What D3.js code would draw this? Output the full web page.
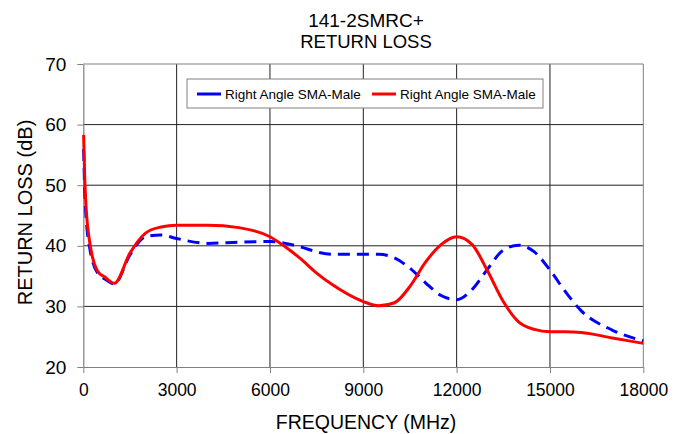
<!DOCTYPE html>
<html><head><meta charset="utf-8">
<script src="https://cdn.jsdelivr.net/npm/d3@7"></script>
<style>body{margin:0;background:#fff}svg{display:block}text{font-family:"Liberation Sans",Arial,sans-serif}</style>
</head><body><svg id="c" width="686" height="434"></svg>
<script>
const titleLines = ["141-2SMRC+", "RETURN LOSS"];
const xLabel = "FREQUENCY (MHz)";
const yLabel = "RETURN LOSS (dB)";
const xTicks = [0, 3000, 6000, 9000, 12000, 15000, 18000];
const yTicks = [20, 30, 40, 50, 60, 70];
const seriesNames = ["Right Angle SMA-Male", "Right Angle SMA-Male"];
const freq = [10, 50, 100, 200, 300, 450, 700, 1000, 1500, 2000, 2500, 3000, 4000, 5000, 6000, 6500, 7000, 7500, 8000, 9000, 9500, 10000, 10500, 11000, 11500, 12000, 12500, 13000, 13500, 14000, 14500, 15000, 15500, 16000, 17000, 18000];
const blueValues = [56, 48.5, 44, 39.8, 37.4, 35.6, 34.5, 33.7, 38.5, 41.5, 41.8, 41.2, 40.4, 40.6, 40.7, 40.4, 39.8, 39.0, 38.6, 38.6, 38.6, 38.0, 36.3, 33.9, 31.8, 31.1, 32.8, 36.2, 39.3, 40.1, 39.0, 36.0, 32.4, 29.3, 26.1, 24.3];
const redValues = [58.3, 50.5, 45.5, 40.8, 38.0, 35.9, 34.8, 33.8, 38.8, 42.1, 43.1, 43.4, 43.4, 43.0, 41.5, 39.8, 37.8, 35.5, 33.6, 30.8, 30.1, 30.6, 33.3, 37.3, 40.2, 41.5, 40.2, 35.8, 30.8, 27.4, 26.2, 25.8, 25.8, 25.7, 24.8, 23.9];

const svg = d3.select("#c");
const L = 83.3, R = 643.3, T = 64, B = 367;
const x = d3.scaleLinear().domain([0, 18000]).range([L, R]);
const y = d3.scaleLinear().domain([20, 70]).range([B, T]);

// grid
svg.append("g").selectAll("line").data(yTicks.slice(1, -1)).join("line")
  .attr("x1", L).attr("x2", R).attr("y1", d => y(d)).attr("y2", d => y(d))
  .attr("stroke", "#222").attr("stroke-width", 1);
svg.append("g").selectAll("line").data(xTicks.slice(1, -1)).join("line")
  .attr("y1", T).attr("y2", B).attr("x1", d => x(d)).attr("x2", d => x(d))
  .attr("stroke", "#222").attr("stroke-width", 1);
// frame
svg.append("line").attr("x1", L).attr("x2", R).attr("y1", T).attr("y2", T).attr("stroke", "#808080");
svg.append("line").attr("x1", R).attr("x2", R).attr("y1", T).attr("y2", B).attr("stroke", "#808080");

// axes
const xAxis = svg.append("g").attr("transform", `translate(0,${B})`)
  .call(d3.axisBottom(x).tickValues(xTicks).tickFormat(d3.format("d")).tickSizeInner(6).tickSizeOuter(0).tickPadding(11));
const yAxis = svg.append("g").attr("transform", `translate(${L},0)`)
  .call(d3.axisLeft(y).tickValues(yTicks).tickFormat(d3.format("d")).tickSizeInner(6).tickSizeOuter(0).tickPadding(11));
[xAxis, yAxis].forEach(a => {
  a.select(".domain").attr("stroke", "#808080").attr("stroke-width", 1.2);
  a.selectAll(".tick line").attr("stroke", "#808080");
  a.selectAll("text").attr("fill", "#000").attr("font-family", "Liberation Sans, Arial, sans-serif");
});
xAxis.selectAll("text").attr("font-size", 17.5);
yAxis.selectAll("text").attr("font-size", 19);

// lines
const line = d3.line().x((d, i) => x(freq[i])).y(d => y(d)).curve(d3.curveMonotoneX);
svg.append("path").datum(blueValues).attr("d", line).attr("fill", "none")
  .attr("stroke", "#0000ff").attr("stroke-width", 3).attr("stroke-dasharray", "12,7");
svg.append("path").datum(redValues).attr("d", line).attr("fill", "none")
  .attr("stroke", "#ff0000").attr("stroke-width", 3);

// title
svg.append("text").attr("x", 366).attr("y", 26.5).attr("text-anchor", "middle").attr("font-size", 19).text(titleLines[0]);
svg.append("text").attr("x", 366).attr("y", 47.5).attr("text-anchor", "middle").attr("font-size", 18.5).text(titleLines[1]);
// axis labels
svg.append("text").attr("x", 366).attr("y", 429).attr("text-anchor", "middle").attr("font-size", 19.5).text(xLabel);
svg.append("text").attr("transform", `translate(31.5,212.5) rotate(-90)`).attr("text-anchor", "middle").attr("font-size", 20).text(yLabel);

// legend
const lg = svg.append("g");
lg.append("rect").attr("x", 187).attr("y", 79).attr("width", 356).attr("height", 29)
  .attr("fill", "#fff").attr("stroke", "#808080").attr("stroke-width", 1);
const colors = ["#0000ff", "#ff0000"];
const lx = [197, 372];
seriesNames.forEach((n, i) => {
  lg.append("line").attr("x1", lx[i]).attr("x2", lx[i] + 24).attr("y1", 94).attr("y2", 94)
    .attr("stroke", colors[i]).attr("stroke-width", 3);
  lg.append("text").attr("x", lx[i] + 28).attr("y", 98.5).attr("font-size", 13.5).text(n);
});
</script></body></html>
